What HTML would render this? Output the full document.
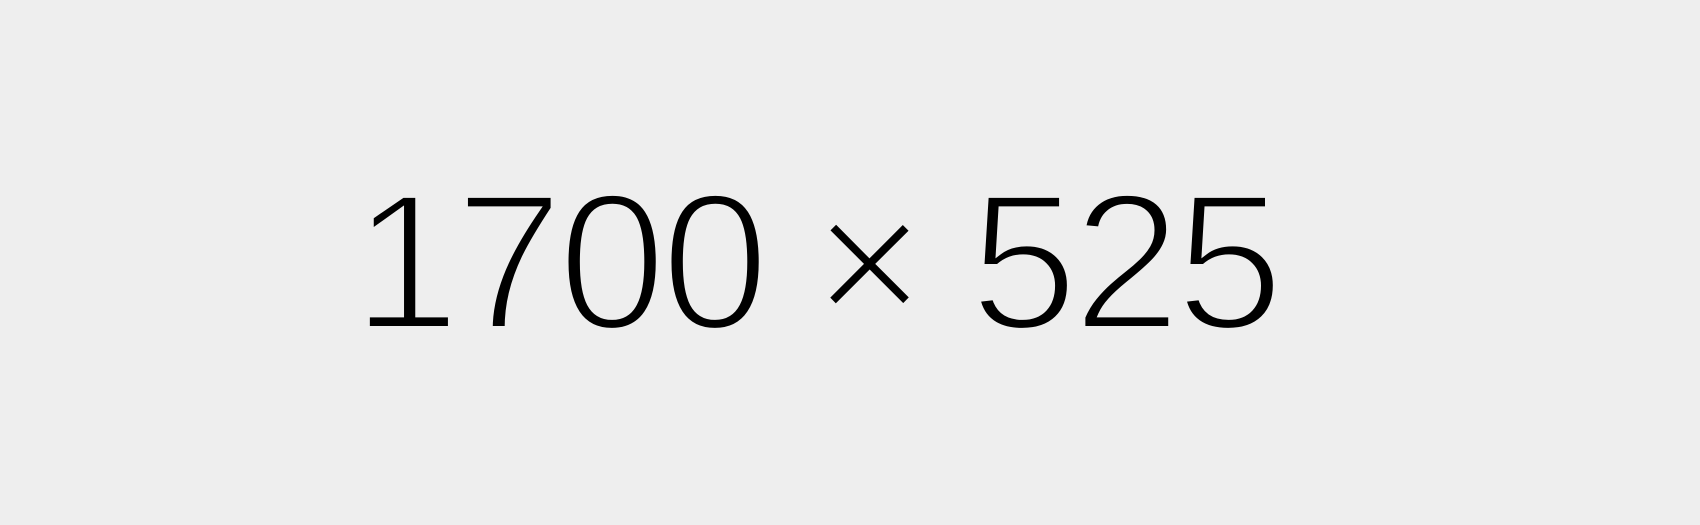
<!DOCTYPE html>
<html>
<head>
<meta charset="utf-8">
<style>
  html, body { margin: 0; padding: 0; background: #eeeeee; }
  body { width: 1700px; height: 525px; overflow: hidden; }
  svg { display: block; }
</style>
</head>
<body>
<svg width="1700" height="525" viewBox="0 0 1700 525">
  <rect x="0" y="0" width="1700" height="525" fill="#eeeeee"/>
  <text x="352" y="329" font-family="Liberation Sans, Arial, sans-serif" font-size="195"
        textLength="932" lengthAdjust="spacing"
        fill="#000" stroke="#eeeeee" stroke-width="6" paint-order="fill"
       >1700 × 525</text>
</svg>
</body>
</html>
